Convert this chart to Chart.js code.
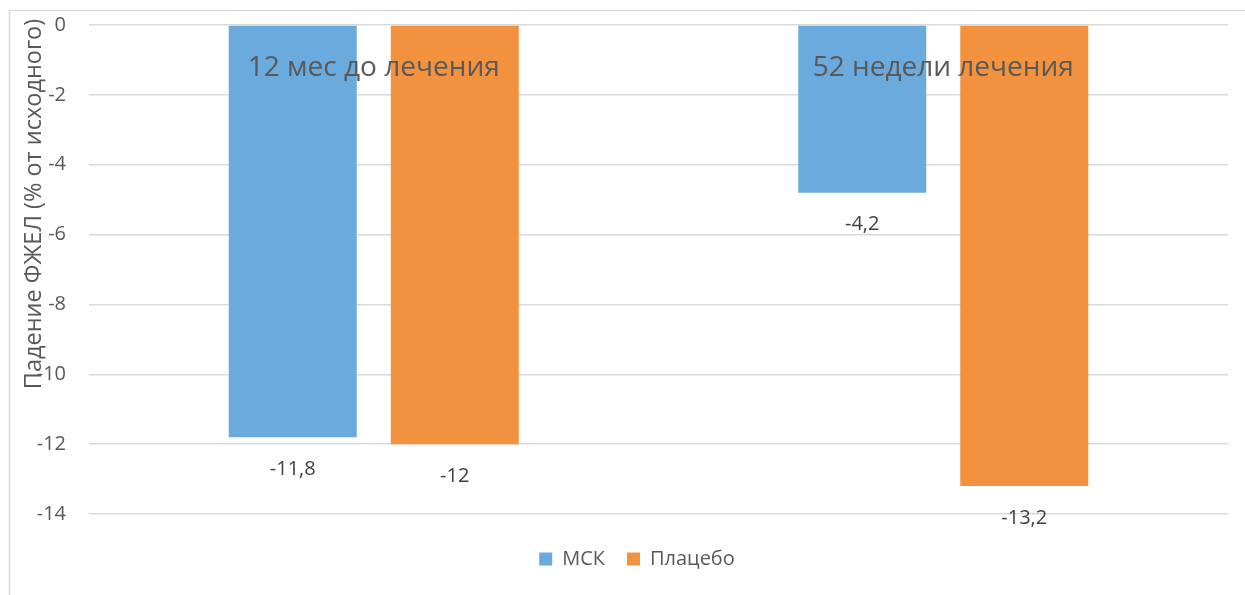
<!DOCTYPE html>
<html>
<head>
<meta charset="utf-8">
<script src="https://cdn.jsdelivr.net/npm/chart.js@4/dist/chart.umd.min.js"></script>
<style>
  html, body { margin: 0; padding: 0; background: #fff; }
  #wrap { width: 1245px; height: 595px; }
</style>
</head>
<body>
<div id="wrap"><canvas id="chart" width="1245" height="595"></canvas></div>
<script>
const categories = ["12 мес до лечения", "52 недели лечения"];
const mskValues = [-11.8, -4.8];
const placeboValues = [-12, -13.2];
const mskLabels = ["-11,8", "-4,2"];
const placeboLabels = ["-12", "-13,2"];
const yTitle = "Падение ФЖЕЛ (% от исходного)";

const FONT = "'Open Sans', 'Noto Sans', sans-serif";
const GREY = "#595959";

// frame, y title, category names, value labels
const extras = {
  id: "extras",
  afterLayout(chart) {
    // legend sits a little right of centre in the original
    chart.legend.left += 23;
    chart.legend.right += 23;
  },
  beforeDraw(chart) {
    const ctx = chart.ctx;
    ctx.save();
    ctx.strokeStyle = "#d9d9d9";
    ctx.lineWidth = 1.5;
    ctx.strokeRect(9.5, 10.5, 1300, 700);
    ctx.restore();
  },
  afterDatasetsDraw(chart) {
    const ctx = chart.ctx;
    const x = chart.scales.x, y = chart.scales.y;
    ctx.save();

    ctx.fillStyle = GREY;
    ctx.font = "28px " + FONT;
    ctx.textAlign = "center";
    ctx.textBaseline = "middle";
    categories.forEach((c, i) => {
      ctx.fillText(c, x.getPixelForValue(i), y.getPixelForValue(0) + 43);
    });

    ctx.fillStyle = "#404040";
    ctx.font = "20px " + FONT;
    const texts = [mskLabels, placeboLabels];
    chart.data.datasets.forEach((ds, di) => {
      chart.getDatasetMeta(di).data.forEach((bar, i) => {
        ctx.fillText(texts[di][i], bar.x, bar.y + 32);
      });
    });

    ctx.fillStyle = GREY;
    ctx.font = "23.5px " + FONT;
    ctx.translate(34, 204);
    ctx.rotate(-Math.PI / 2);
    ctx.fillText(yTitle, 0, 0);
    ctx.restore();
  }
};

new Chart(document.getElementById("chart"), {
  type: "bar",
  data: {
    labels: categories,
    datasets: [
      { label: "МСК", data: mskValues, backgroundColor: "#6aaadc" },
      { label: "Плацебо", data: placeboValues, backgroundColor: "#f2923f" }
    ]
  },
  options: {
    responsive: false,
    animation: false,
    layout: { padding: { top: 25, left: 0, right: 17, bottom: 16 } },
    categoryPercentage: 0.569,
    barPercentage: 0.79,
    scales: {
      x: {
        grid: { display: false },
        border: { display: false },
        ticks: { display: false },
        afterFit(scale) { scale.height = 13; }
      },
      y: {
        min: -14,
        max: 0,
        ticks: {
          stepSize: 2,
          padding: 23,
          color: GREY,
          font: { family: FONT, size: 20 },
          callback: v => String(v)
        },
        grid: { color: "#d9d9d9", lineWidth: 1.5, drawTicks: false },
        border: { display: false },
        afterFit(scale) {
          scale.width = 89;
          scale.paddingTop = 0;
          scale.paddingBottom = 0;
        }
      }
    },
    plugins: {
      legend: {
        position: "bottom",
        labels: {
          boxWidth: 13,
          boxHeight: 13,
          padding: 22,
          color: GREY,
          font: { family: FONT, size: 20 }
        }
      },
      tooltip: { enabled: false }
    }
  },
  plugins: [extras]
});
</script>
</body>
</html>
